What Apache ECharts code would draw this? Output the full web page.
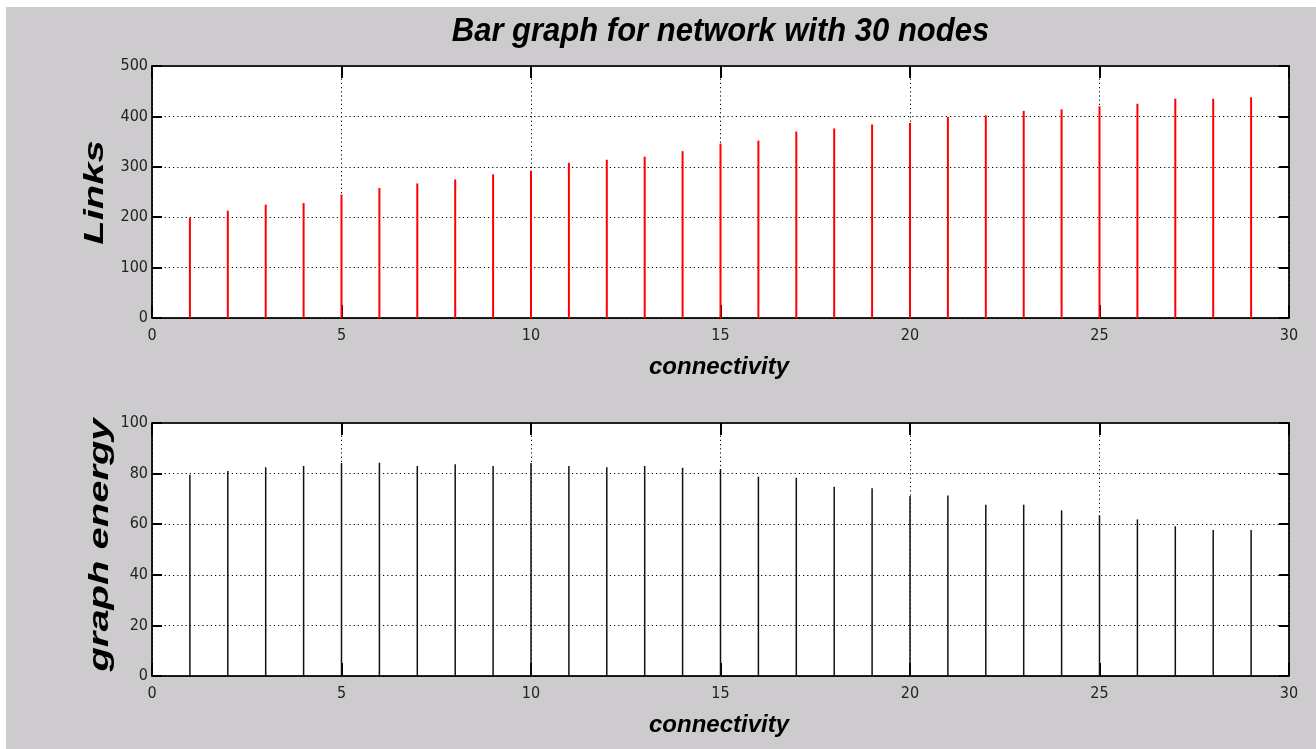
<!DOCTYPE html>
<html>
<head>
<meta charset="utf-8">
<script src="https://cdn.jsdelivr.net/npm/echarts@6/dist/echarts.min.js"></script>
<style>
  html, body { margin: 0; padding: 0; background: #ffffff; width: 1316px; height: 749px; overflow: hidden; }
  #chart { position: absolute; left: 6px; top: 7px; width: 1310px; height: 742px; background: #cdcbce; }
</style>
</head>
<body>
<div id="chart"></div>
<script>
// ---- data ----
const titleText = 'Bar graph for network with 30 nodes';
const xName = 'connectivity';
const yNameTop = 'Links';
const yNameBottom = 'graph energy';
const connectivity = [1,2,3,4,5,6,7,8,9,10,11,12,13,14,15,16,17,18,19,20,21,22,23,24,25,26,27,28,29];
const links = [199,213,225,228,245,258,267,275,285,292,308,314,320,331,346,352,370,376,384,387,399,402,411,414,420,425,435,435,438];
const energy = [79.5,81,82.5,83,84.2,84.3,83,83.7,83,84.2,83,82.5,83,82.3,81.7,78.8,78.4,74.8,74.2,71.1,71.3,67.7,67.7,65.5,63.5,61.9,59.2,57.7,57.7];
const xTicks = { min: 0, max: 30, interval: 5 };
const yTicksTop = { min: 0, max: 500, interval: 100 };
const yTicksBottom = { min: 0, max: 100, interval: 20 };

const tickFont = "'Liberation Sans Narrow', 'DejaVu Sans Condensed', 'Liberation Sans', Arial, sans-serif";
const labelFont = "'Liberation Sans', Arial, sans-serif";
const dotted = { color: '#000', width: 1, type: [1.2, 3] };

function xAxes(gridIndex) {
  return [
    {
      type: 'value', gridIndex, position: 'bottom',
      min: xTicks.min, max: xTicks.max, interval: xTicks.interval,
      axisLine: { show: true, onZero: false, lineStyle: { color: '#000', width: 1.5 } },
      axisTick: { show: true, inside: true, length: 13, lineStyle: { color: '#000', width: 2 } },
      axisLabel: { show: true, margin: 10, color: '#222', fontFamily: tickFont, fontSize: 16 },
      splitLine: { show: true, lineStyle: dotted }
    },
    {
      type: 'value', gridIndex, position: 'top',
      min: xTicks.min, max: xTicks.max, interval: xTicks.interval,
      axisLine: { show: true, onZero: false, lineStyle: { color: '#222', width: 2 } },
      axisTick: { show: true, inside: true, length: 12, lineStyle: { color: '#000', width: 2 } },
      axisLabel: { show: false },
      splitLine: { show: false }
    }
  ];
}
function yAxes(gridIndex, t) {
  return [
    {
      type: 'value', gridIndex, position: 'left',
      min: t.min, max: t.max, interval: t.interval,
      axisLine: { show: true, onZero: false, lineStyle: { color: '#000', width: 1.5 } },
      axisTick: { show: true, inside: true, length: 10, lineStyle: { color: '#000', width: 2 } },
      axisLabel: { show: true, margin: 4, color: '#222', fontFamily: tickFont, fontSize: 16 },
      splitLine: { show: true, lineStyle: dotted }
    },
    {
      type: 'value', gridIndex, position: 'right',
      min: t.min, max: t.max, interval: t.interval,
      axisLine: { show: true, onZero: false, lineStyle: { color: '#000', width: 1.5 } },
      axisTick: { show: true, inside: true, length: 10, lineStyle: { color: '#000', width: 2 } },
      axisLabel: { show: false },
      splitLine: { show: false }
    }
  ];
}

const chart = echarts.init(document.getElementById('chart'), null, { renderer: 'canvas' });
const option = {
  animation: false,
  backgroundColor: 'transparent',
  grid: [
    { left: 146, top: 59, width: 1137, height: 252, show: true, backgroundColor: '#fff', borderColor: '#000', borderWidth: 1 },
    { left: 146, top: 416, width: 1137, height: 253, show: true, backgroundColor: '#fff', borderColor: '#000', borderWidth: 1 }
  ],
  xAxis: [...xAxes(0), ...xAxes(1)],
  yAxis: [...yAxes(0, yTicksTop), ...yAxes(1, yTicksBottom)],
  series: [
    {
      type: 'bar', xAxisIndex: 0, yAxisIndex: 0, barWidth: 2,
      itemStyle: { color: '#ff0000' },
      data: connectivity.map((c, i) => [c, links[i]])
    },
    {
      type: 'bar', xAxisIndex: 2, yAxisIndex: 2, barWidth: 1.5,
      itemStyle: { color: '#111' },
      data: connectivity.map((c, i) => [c, energy[i]])
    }
  ],
  graphic: [
    { type: 'text', x: 714.5, y: 25, scaleY: 1.05, style: { text: titleText, fill: '#000', align: 'center', verticalAlign: 'middle',
      fontFamily: labelFont, fontWeight: 'bold', fontStyle: 'italic', fontSize: 31 } },
    { type: 'text', x: 713, y: 360, style: { text: xName, fill: '#000', align: 'center', verticalAlign: 'middle',
      fontFamily: labelFont, fontWeight: 'bold', fontStyle: 'italic', fontSize: 24 } },
    { type: 'text', x: 713, y: 718, style: { text: xName, fill: '#000', align: 'center', verticalAlign: 'middle',
      fontFamily: labelFont, fontWeight: 'bold', fontStyle: 'italic', fontSize: 24 } },
    { type: 'text', x: 90, y: 185.5, rotation: Math.PI / 2, scaleX: 1.48,
      style: { text: yNameTop, fill: '#000', align: 'center', verticalAlign: 'middle',
      fontFamily: labelFont, fontWeight: 'bold', fontStyle: 'italic', fontSize: 27 } },
    { type: 'text', x: 95, y: 538, rotation: Math.PI / 2, scaleX: 1.48,
      style: { text: yNameBottom, fill: '#000', align: 'center', verticalAlign: 'middle',
      fontFamily: labelFont, fontWeight: 'bold', fontStyle: 'italic', fontSize: 27 } }
  ]
};
chart.setOption(option);
</script>
</body>
</html>
